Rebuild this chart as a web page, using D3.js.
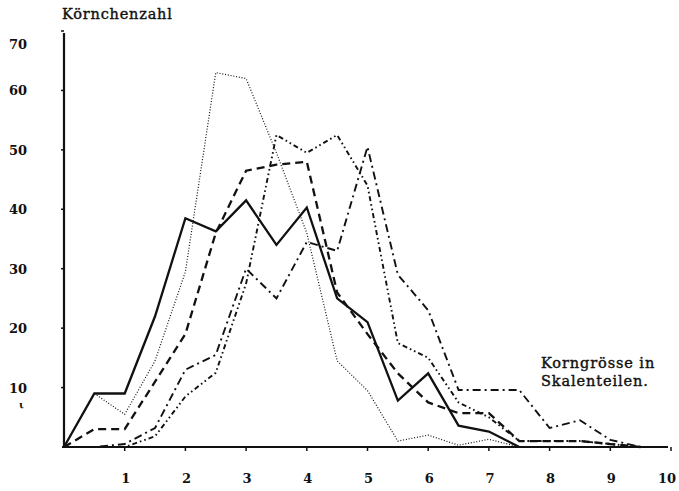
<!DOCTYPE html>
<html><head><meta charset="utf-8">
<script src="https://cdn.jsdelivr.net/npm/d3@7"></script>
<style>
html,body{margin:0;padding:0;background:#fff;}
svg{display:block;}
text{font-family:"DejaVu Serif","Liberation Serif",serif;fill:#111;}
</style></head>
<body>
<svg id="chart" width="679" height="491"></svg>
<script>
// ---- data ----
const xValues = [0,0.5,1,1.5,2,2.5,3,3.5,4,4.5,5,5.5,6,6.5,7,7.5,8,8.5,9,9.5];
const seriesSolid  = [0,9,9,22,38.5,36.3,41.5,34,40.3,25,21,7.8,12.4,3.6,2.6,0];
const seriesDashed = [0,3,3,11,19,36,46.5,47.5,48,26,19,12.4,7.5,5.7,5.7,1,1,1,0.5,0];
const seriesDotted = [0,9,5.5,14.5,29.5,63,62,49.5,36,14.5,9.5,1,2,0.3,1.3,0];
const seriesDashDotA = [0,0,0.5,3.2,13,15.5,30,25,34.5,33,50.5,29,23,9.6,9.6,9.6,3.2,4.5,1.2,0];
const seriesDashDotB = [0,0,0,1.8,8.5,12.5,27.5,52.5,49.5,52.5,44,17.5,15,7.5,5,1,1,1,0.5,0];
const xTickLabels = [1,2,3,4,5,6,7,8,9,10];
const yTickLabels = [10,20,30,40,50,60,70];
const yAxisTitle = "Körnchenzahl";
const xAxisTitle = ["Korngrösse in","Skalenteilen."];

// ---- layout ----
const svg = d3.select("#chart");
const x = d3.scaleLinear().domain([0,10]).range([64,671]);
const y = d3.scaleLinear().domain([0,70]).range([447,31]);

// axes
svg.append("line").attr("x1",x(0)).attr("x2",x(0)).attr("y1",y(0)).attr("y2",33)
  .attr("stroke","#111").attr("stroke-width",2.2);
svg.append("line").attr("x1",x(0)-2).attr("x2",668).attr("y1",y(0)).attr("y2",y(0))
  .attr("stroke","#111").attr("stroke-width",2.2);

// x ticks + labels
const xg = svg.append("g");
xg.selectAll("line").data(xTickLabels).join("line")
  .attr("x1",d=>x(d)).attr("x2",d=>x(d)).attr("y1",y(0)).attr("y2",y(0)+4)
  .attr("stroke","#111").attr("stroke-width",1.5);
xg.selectAll("text").data(xTickLabels).join("text")
  .attr("x",d=>Math.min(x(d)+1,667)).attr("y",483).attr("text-anchor","middle")
  .attr("font-size",13).attr("font-weight","bold").text(d=>d);

// y ticks + labels
const yg = svg.append("g");
yg.selectAll("line").data(yTickLabels).join("line")
  .attr("x1",x(0)-3).attr("x2",x(0)).attr("y1",d=>y(d)).attr("y2",d=>y(d))
  .attr("stroke","#111").attr("stroke-width",1.5);
yg.selectAll("text").data(yTickLabels).join("text")
  .attr("x",27).attr("y",d=>Math.max(y(d),44)+5).attr("text-anchor","end")
  .attr("font-size",13).attr("font-weight","bold").text(d=>d);

// stray mark near y axis
svg.append("text").attr("x",19).attr("y",408).attr("font-size",10).attr("font-weight","bold").text("ι");

// titles
svg.append("text").attr("x",62).attr("y",19).attr("font-size",14.5)
  .attr("letter-spacing",0.8).attr("stroke","#111").attr("stroke-width",0.4).text(yAxisTitle);
svg.selectAll("text.xt").data(xAxisTitle).join("text").attr("class","xt")
  .attr("x",541).attr("y",(d,i)=>368+i*18).attr("font-size",14.5)
  .attr("letter-spacing",0.9).attr("stroke","#111").attr("stroke-width",0.4).text(d=>d);

// series
const line = d3.line().x((d,i)=>x(xValues[i])).y(d=>y(d));
const series = [
  {v:seriesDotted, w:1.2, dash:"1,1.8"},
  {v:seriesDashDotA, w:1.9, dash:"8,4,2,4"},
  {v:seriesDashDotB, w:1.9, dash:"5,3,1.6,3,1.6,3"},
  {v:seriesDashed, w:2.3, dash:"8,5"},
  {v:seriesSolid, w:2.3, dash:null}
];
svg.append("g").selectAll("path").data(series).join("path")
  .attr("d",d=>line(d.v)).attr("fill","none").attr("stroke","#111")
  .attr("stroke-width",d=>d.w).attr("stroke-dasharray",d=>d.dash)
  .attr("stroke-linejoin","miter");
</script>
</body></html>
